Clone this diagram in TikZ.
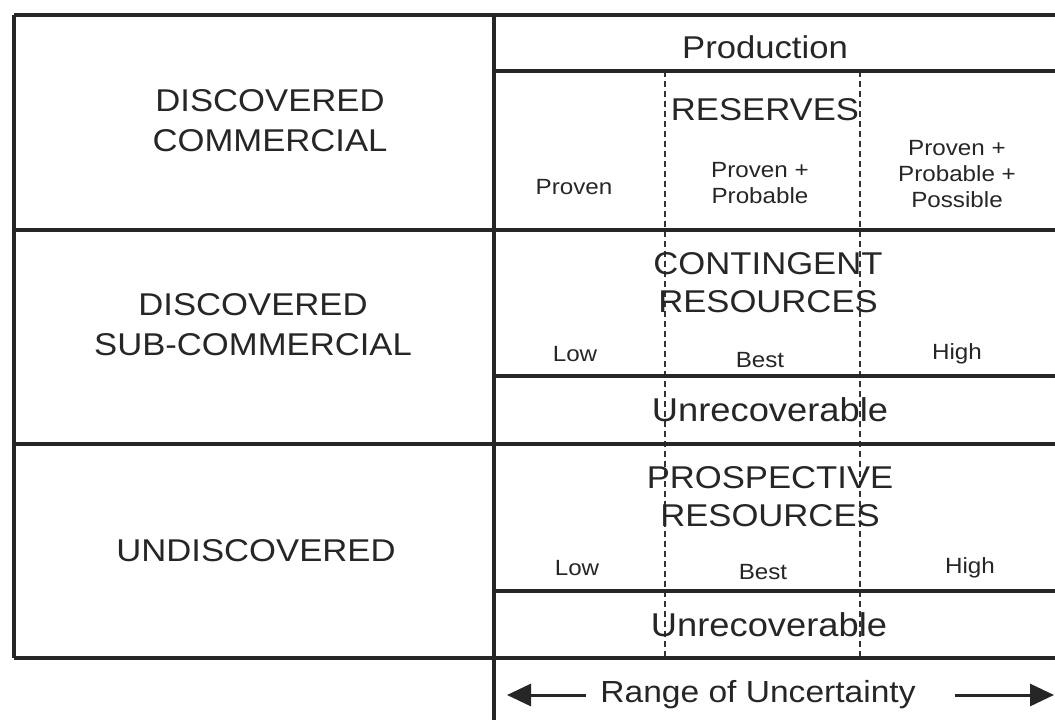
\documentclass[tikz,border=0pt]{standalone}
\usepackage{fontspec}
\setmainfont[FakeStretch=1.1]{Liberation Sans}
\usetikzlibrary{arrows.meta}
\begin{document}
\begin{tikzpicture}[x=1pt,y=-1pt,
  grid/.style={line width=3.2pt, draw=black!85},
  dline/.style={line width=1.6pt, dash pattern=on 6pt off 4pt, draw=black!80},
  big/.style={font=\fontsize{31.5}{40}\selectfont, align=center, inner sep=0pt, text=black!85},
  mid/.style={font=\fontsize{31.5}{38}\selectfont, align=center, inner sep=0pt, text=black!85},
  unrec/.style={font=\fontsize{33}{38}\selectfont, align=center, inner sep=0pt, text=black!85},
  rng/.style={font=\fontsize{30.5}{36}\selectfont, align=center, inner sep=0pt, text=black!85},
  small/.style={font=\fontsize{22}{26}\selectfont, align=center, inner sep=0pt, text=black!85},
  arr/.style={line width=3pt, draw=black!85, fill=black!85, -{Triangle[length=24pt,width=22pt]}}]
\useasboundingbox (0,0) rectangle (1055,720);
% grid coordinates
\coordinate (tl) at (14,15);
\coordinate (tm) at (494,15);
\coordinate (tr) at (1055,15);
\coordinate (pm) at (494,71);
\coordinate (pr) at (1055,71);
\coordinate (al) at (14,230);
\coordinate (ar) at (1055,230);
\coordinate (bm) at (494,376);
\coordinate (br) at (1055,376);
\coordinate (cl) at (14,444);
\coordinate (cr) at (1055,444);
\coordinate (dm) at (494,591);
\coordinate (dr) at (1055,591);
\coordinate (bl) at (14,658);
\coordinate (bbr) at (1055,658);
\coordinate (mb) at (494,720);
\coordinate (d1t) at (665,71);
\coordinate (d1b) at (665,658);
\coordinate (d2t) at (860,71);
\coordinate (d2b) at (860,658);
% dashed lines
\draw[dline] (d1t) -- (d1b);
\draw[dline] (d2t) -- (d2b);
% solid grid
\draw[grid] (tl) -- (tr);
\draw[grid] (tl) -- (bl);
\draw[grid] (bl) -- (bbr);
\draw[grid] (tm) -- (mb);
\draw[grid] (pm) -- (pr);
\draw[grid] (al) -- (ar);
\draw[grid] (bm) -- (br);
\draw[grid] (cl) -- (cr);
\draw[grid] (dm) -- (dr);
% left column
\node[big] (dc) at (270,121) {DISCOVERED\\COMMERCIAL};
\node[big] (dsc) at (253,325) {DISCOVERED\\SUB-COMMERCIAL};
\node[big] (ud) at (256,551) {UNDISCOVERED};
% right column
\node[big] (prod) at (765,47) {Production};
\node[big] (res) at (765,110) {RESERVES};
\node[small] (p1) at (574,187) {Proven};
\node[small] (p2) at (760,183) {Proven +\\Probable};
\node[small] (p3) at (957,174) {Proven +\\Probable +\\Possible};
\node[mid] (cont) at (768,283) {CONTINGENT\\RESOURCES};
\node[small] (cl1) at (575,354) {Low};
\node[small] (cb1) at (760,360) {Best};
\node[small] (ch1) at (957,354) {High};
\node[unrec] (un1) at (770,410) {Unrecoverable};
\node[mid] (pros) at (770,497) {PROSPECTIVE\\RESOURCES};
\node[small] (pl1) at (577,568) {Low};
\node[small] (pb1) at (763,572) {Best};
\node[small] (ph1) at (970,568) {High};
\node[unrec] (un2) at (769,625) {Unrecoverable};
\node[rng] (range) at (758,695) {Range of Uncertainty};
\coordinate (las) at (586,695);
\coordinate (la) at (507,695);
\coordinate (ras) at (955,695);
\coordinate (ra) at (1054,695);
\draw[arr] (las) -- (la);
\draw[arr] (ras) -- (ra);
\end{tikzpicture}
\end{document}
